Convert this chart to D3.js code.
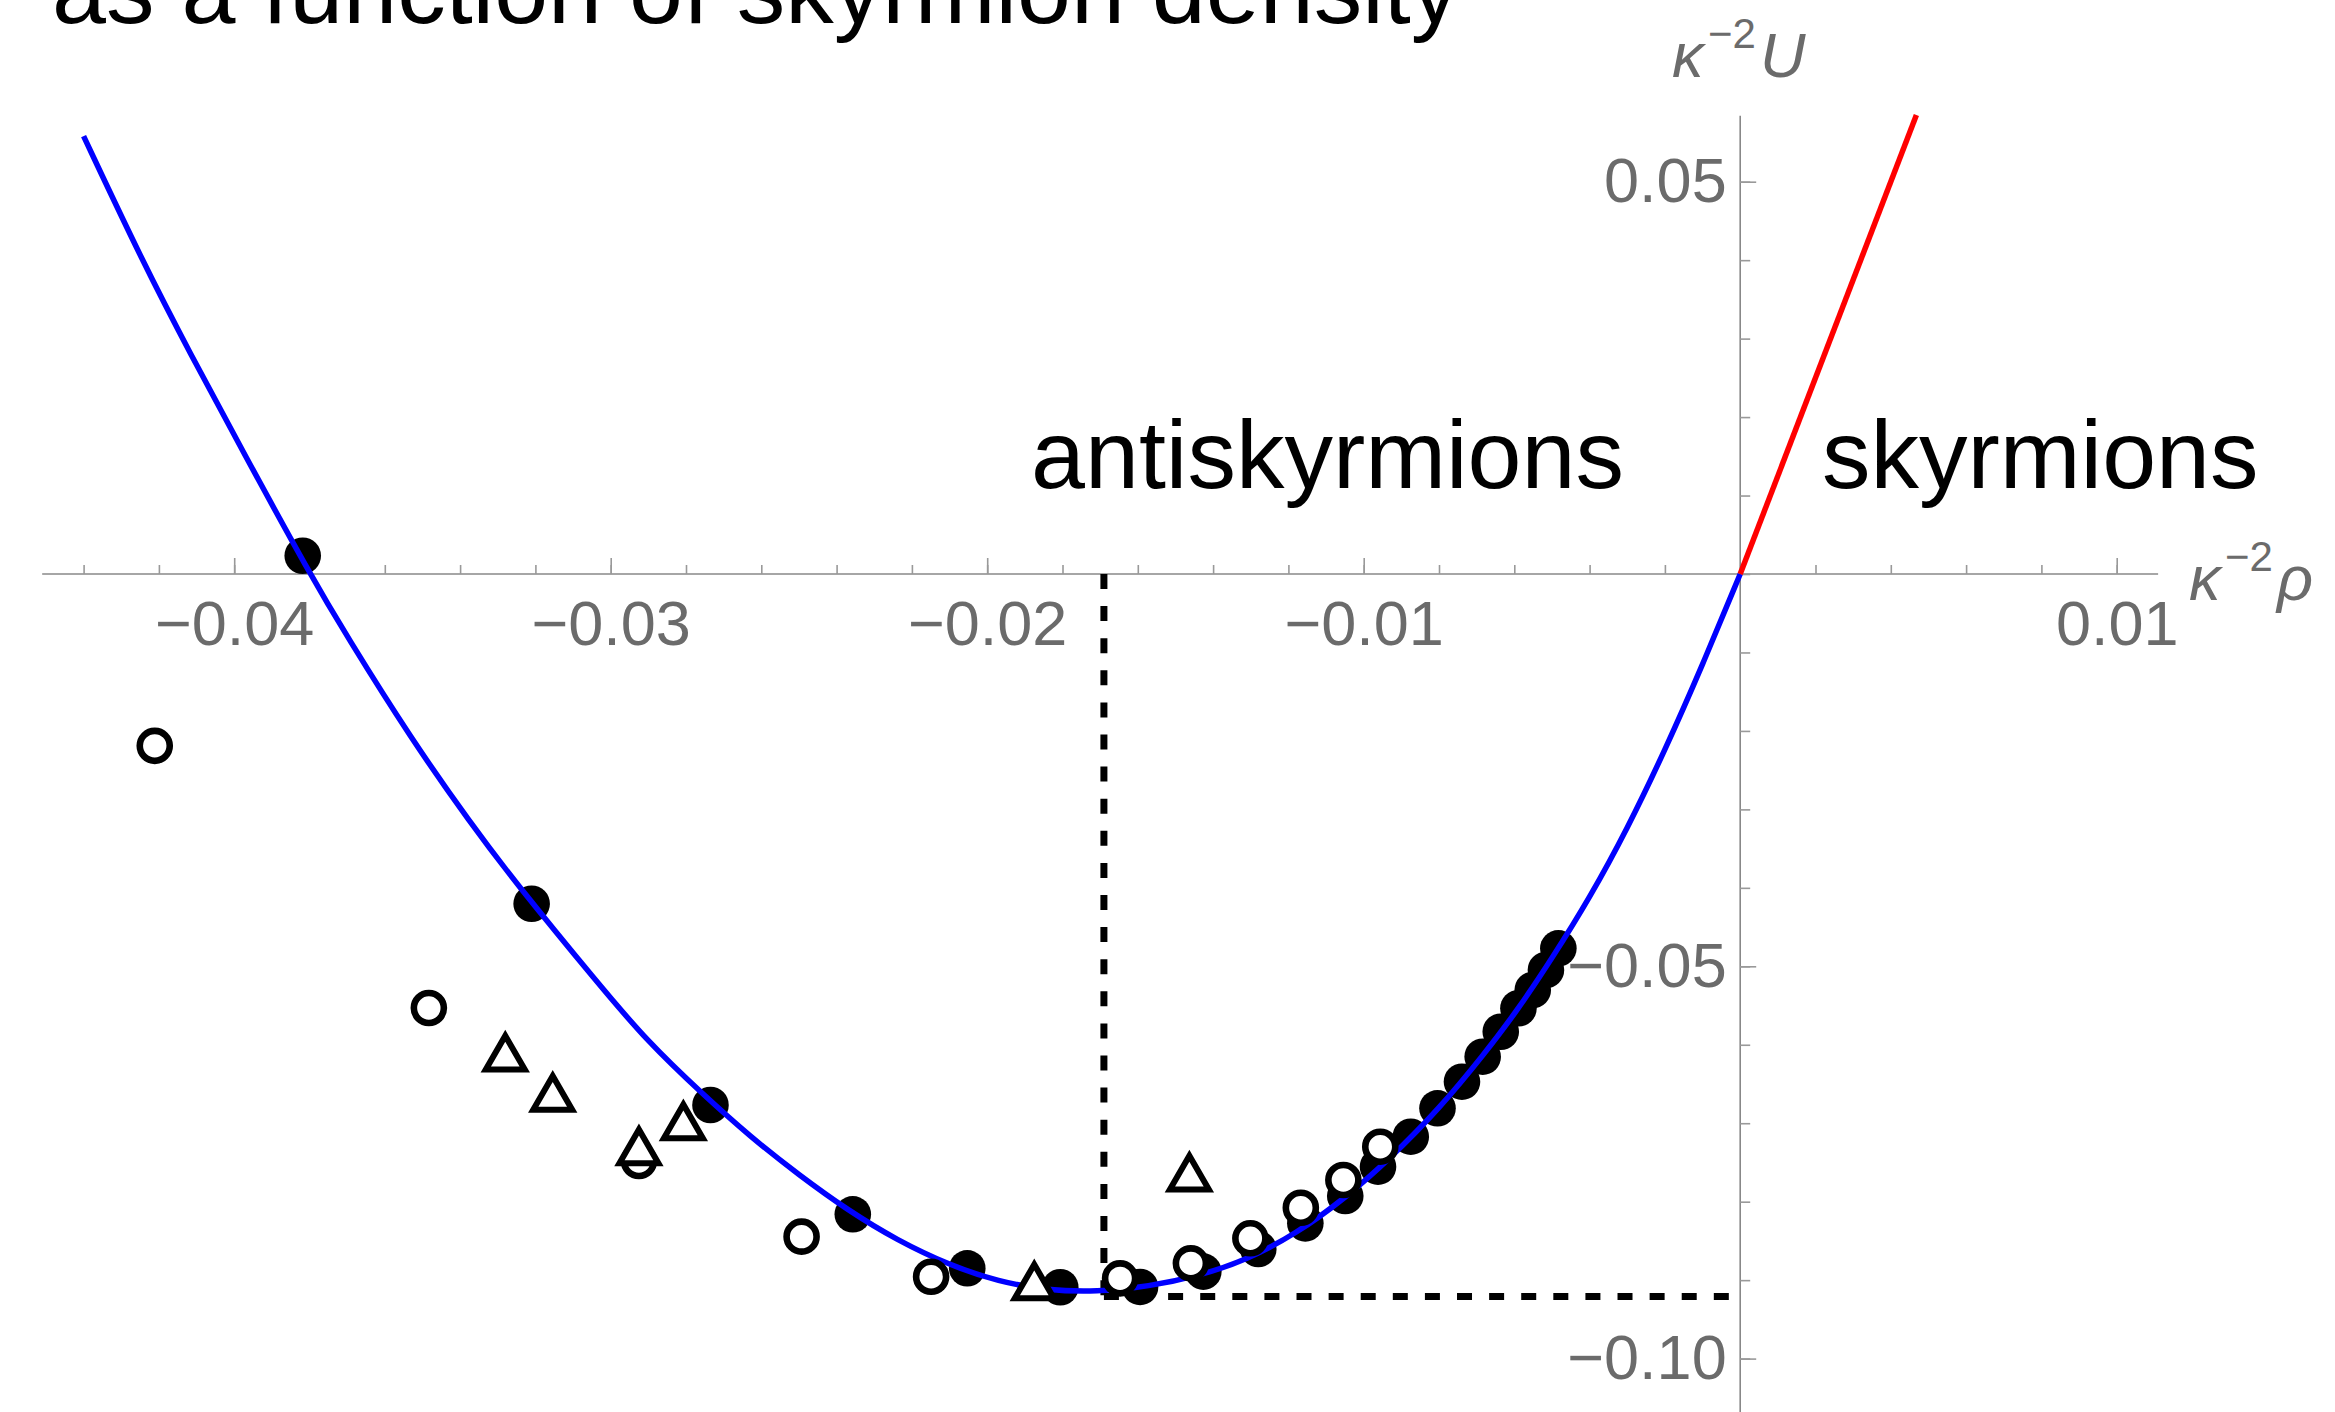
<!DOCTYPE html>
<html>
<head>
<meta charset="utf-8">
<script src="https://cdn.jsdelivr.net/npm/d3@7"></script>
<style>
  html, body { margin: 0; padding: 0; background: #fff; }
  svg { display: block; }
  text { font-family: "Liberation Sans", Arial, Helvetica, sans-serif; }
</style>
</head>
<body>
<svg id="chart" width="2335" height="1412"></svg>
<script>
// Energy density U as a function of skyrmion density rho (both in units of kappa^2)

// Antiskyrmion branch (blue curve)
const antiRho = [-0.0440, -0.0424, -0.0412, -0.0397, -0.0380, -0.0370, -0.0353, -0.0337, -0.0326,
                 -0.0303, -0.0290, -0.0276, -0.0263, -0.0250, -0.0237, -0.0224, -0.0210, -0.0197,
                 -0.0184, -0.0171, -0.0157, -0.0144, -0.0131, -0.0118, -0.0105, -0.0093, -0.0080,
                 -0.0068, -0.0059, -0.0050, -0.0040, -0.0030, -0.0020, -0.0010, 0.0];
const antiU   = [0.0558, 0.0395, 0.0284, 0.0150, 0.0001, -0.0080, -0.0210, -0.0319, -0.0389,
                 -0.0524, -0.0597, -0.0661, -0.0717, -0.0766, -0.0811, -0.0849, -0.0881, -0.0902,
                 -0.0913, -0.0915, -0.0908, -0.0895, -0.0874, -0.0841, -0.0796, -0.0745, -0.0682,
                 -0.0612, -0.0555, -0.0490, -0.0413, -0.0325, -0.0225, -0.0116, 0.0];

// Skyrmion branch (red line)
const skyRho = [0.0, 0.00468];
const skyU   = [0.0, 0.0585];

// Numerical results: filled circles
const filledRho = [-0.03818, -0.03210, -0.02735, -0.02357, -0.02053, -0.01806, -0.01594, -0.01426,
                   -0.01280, -0.01155, -0.01049, -0.00962, -0.00875, -0.00804, -0.00739, -0.00684,
                   -0.00636, -0.00589, -0.00551, -0.00516, -0.00483];
const filledU   = [0.00233, -0.04203, -0.06768, -0.08161, -0.08849, -0.09091, -0.09087, -0.08892,
                   -0.08603, -0.08276, -0.07928, -0.07554, -0.07172, -0.06810, -0.06471, -0.06152,
                   -0.05834, -0.05535, -0.05302, -0.05047, -0.04771];

// Numerical results: open circles
const openRho = [-0.04211, -0.03483, -0.02925, -0.02493, -0.02149, -0.01647, -0.01459, -0.01301,
                 -0.01167, -0.01054, -0.00956];
const openU   = [-0.02190, -0.05532, -0.07481, -0.08446, -0.08956, -0.08977, -0.08786, -0.08467,
                 -0.08077, -0.07724, -0.07299];

// Numerical results: open triangles
const triRho = [-0.03280, -0.03154, -0.02925, -0.02807, -0.01875, -0.01463];
const triU   = [-0.06173, -0.06685, -0.07367, -0.07048, -0.09087, -0.07702];

// Position of the energy minimum (dashed guides)
const minRho = -0.0169;
const minU = -0.0921;

// Axis ticks and extents
const xMajorTicks = [-0.04, -0.03, -0.02, -0.01, 0.01];
const yMajorTicks = [-0.10, -0.05, 0.05];
const xMinorTicks = d3.range(-22, 6).map(i => i * 0.002);
const yMinorTicks = d3.range(-10, 6).map(i => i * 0.01);
const xSpan = [-0.0451, 0.0111];
const ySpan = [-0.1070, 0.0584];

const zip = (a, b) => a.map((v, i) => [v, b[i]]);

const svg = d3.select("#chart");
svg.append("rect").attr("width", 2335).attr("height", 1412).attr("fill", "#fff");

const x = d3.scaleLinear().domain([-0.04, 0.01]).range([234.2, 2116.7]);
const y = d3.scaleLinear().domain([-0.10, 0.05]).range([1358.6, 181.7]);

const axisColor = "#999999";
const labelColor = "#6b6b6b";

// ---- axes (crossing at the origin) ----
const gx = svg.append("g").attr("transform", `translate(0,${y(0)})`);
gx.append("line")
  .attr("x1", x(xSpan[0])).attr("x2", x(xSpan[1]))
  .attr("stroke", "#888").attr("stroke-width", 1.6);
gx.append("g").call(d3.axisBottom(x).tickValues(xMinorTicks).tickSize(-9).tickFormat(""));
gx.append("g").call(d3.axisBottom(x).tickValues(xMajorTicks).tickSize(-16).tickPadding(26)
  .tickFormat(d3.format(".2f")));

const gy = svg.append("g").attr("transform", `translate(${x(0)},0)`);
gy.append("line")
  .attr("y1", y(ySpan[0])).attr("y2", y(ySpan[1]))
  .attr("stroke", "#888").attr("stroke-width", 1.6);
gy.append("g").call(d3.axisLeft(y).tickValues(yMinorTicks).tickSize(-10).tickFormat(""));
gy.append("g").call(d3.axisLeft(y).tickValues(yMajorTicks).tickSize(-16).tickPadding(13.5)
  .tickFormat(d3.format(".2f")));

svg.selectAll(".domain").remove();
svg.selectAll(".tick line").attr("stroke", axisColor).attr("stroke-width", 1.6);
svg.selectAll(".tick text")
  .attr("fill", labelColor)
  .attr("font-size", 63)
  .attr("font-family", "'Liberation Sans', Arial, Helvetica, sans-serif");

// axis labels: kappa^-2 rho and kappa^-2 U
const axisLabel = (x0, base, sym) => {
  svg.append("text").attr("x", x0).attr("y", base).attr("font-size", 63)
    .attr("font-style", "italic").attr("fill", labelColor).text("\u03BA");
  svg.append("text").attr("x", x0 + 36).attr("y", base - 29).attr("font-size", 42)
    .attr("fill", labelColor).text("\u22122");
  svg.append("text").attr("x", x0 + 88).attr("y", base).attr("font-size", 63)
    .attr("font-style", "italic").attr("fill", labelColor).text(sym);
};
axisLabel(2189, 600, "\u03C1");
axisLabel(1672, 77, "U");

// ---- dashed guides to the minimum ----
const dash = { stroke: "#000", width: 7, array: "15 17.1" };
svg.append("line")
  .attr("x1", x(minRho)).attr("x2", x(minRho))
  .attr("y1", y(0)).attr("y2", y(minU))
  .attr("stroke", dash.stroke).attr("stroke-width", dash.width)
  .attr("stroke-dasharray", dash.array);
svg.append("line")
  .attr("x1", x(minRho)).attr("x2", x(0))
  .attr("y1", y(minU)).attr("y2", y(minU))
  .attr("stroke", dash.stroke).attr("stroke-width", dash.width)
  .attr("stroke-dasharray", dash.array);

// ---- filled circles ----
svg.append("g").selectAll("circle")
  .data(zip(filledRho, filledU))
  .join("circle")
  .attr("cx", d => x(d[0])).attr("cy", d => y(d[1]))
  .attr("r", 18.3).attr("fill", "#000");

// ---- curves ----
const smooth = d3.line().x(d => x(d[0])).y(d => y(d[1])).curve(d3.curveBasis);
const straight = d3.line().x(d => x(d[0])).y(d => y(d[1]));
svg.append("path").datum(zip(antiRho, antiU))
  .attr("d", smooth).attr("fill", "none")
  .attr("stroke", "#0000ff").attr("stroke-width", 5.5);
svg.append("path").datum(zip(skyRho, skyU))
  .attr("d", straight).attr("fill", "none")
  .attr("stroke", "#ff0000").attr("stroke-width", 5.5);

// ---- open circles ----
svg.append("g").selectAll("circle")
  .data(zip(openRho, openU))
  .join("circle")
  .attr("cx", d => x(d[0])).attr("cy", d => y(d[1]))
  .attr("r", 15).attr("fill", "#fff")
  .attr("stroke", "#000").attr("stroke-width", 6.6);

// ---- open triangles ----
const tri = d3.symbol(d3.symbolTriangle, 658);
svg.append("g").selectAll("path")
  .data(zip(triRho, triU))
  .join("path")
  .attr("d", tri)
  .attr("transform", d => `translate(${x(d[0])},${y(d[1])})`)
  .attr("fill", "#fff").attr("stroke", "#000")
  .attr("stroke-width", 6).attr("stroke-linejoin", "miter");

// ---- annotations ----
svg.append("text").attr("x", 1031).attr("y", 488).attr("font-size", 97)
  .attr("fill", "#000").text("antiskyrmions");
svg.append("text").attr("x", 1822).attr("y", 488).attr("font-size", 97)
  .attr("fill", "#000").text("skyrmions");
svg.append("text").attr("x", 52).attr("y", 23).attr("font-size", 97)
  .attr("fill", "#000").text("as a function of skyrmion density");
</script>
</body>
</html>
